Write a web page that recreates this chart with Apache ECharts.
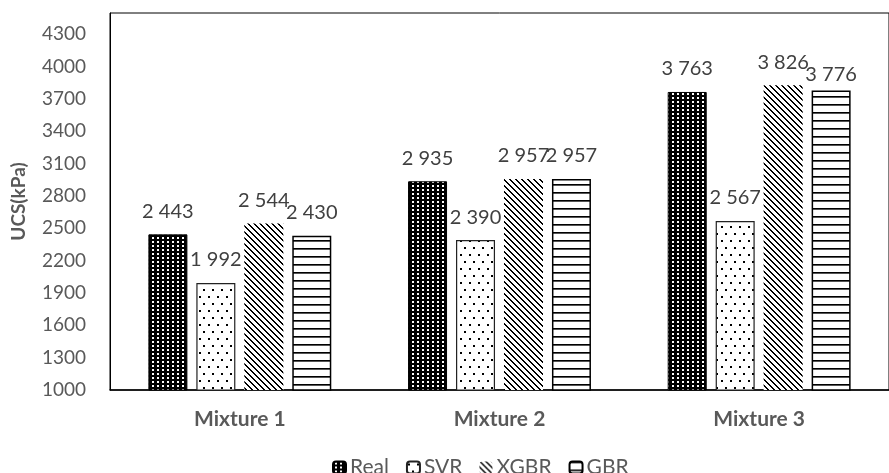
<!DOCTYPE html>
<html>
<head>
<meta charset="utf-8">
<script src="https://cdn.jsdelivr.net/npm/echarts@6/dist/echarts.min.js"></script>
<style>
html,body{margin:0;padding:0;background:#fff;}
#chart{width:889px;height:473px;}
</style>
</head>
<body>
<div id="chart"></div>
<script>
const categories = ['Mixture 1', 'Mixture 2', 'Mixture 3'];
const seriesNames = ['Real', 'SVR', 'XGBR', 'GBR'];
const realValues = [2443, 2935, 3763];
const svrValues = [1992, 2390, 2567];
const xgbrValues = [2544, 2957, 3826];
const gbrValues = [2430, 2957, 3776];
const yTicks = [1000, 1300, 1600, 1900, 2200, 2500, 2800, 3100, 3400, 3700, 4000, 4300];

function makePattern(w, h, draw) {
  const c = document.createElement('canvas');
  c.width = w; c.height = h;
  const ctx = c.getContext('2d');
  draw(ctx, w, h);
  return { image: c, repeat: 'repeat' };
}
const realPattern = makePattern(5, 4, (ctx, w, h) => {
  ctx.fillStyle = '#000'; ctx.fillRect(0, 0, w, h);
  ctx.fillStyle = '#fff'; ctx.fillRect(2, 1, 2, 2);
});
const svrPattern = makePattern(9, 14, (ctx, w, h) => {
  ctx.fillStyle = '#fff'; ctx.fillRect(0, 0, w, h);
  ctx.fillStyle = '#000';
  ctx.fillRect(1, 2, 2, 2);
  ctx.fillRect(5, 9, 2, 2);
});
const xgbrPattern = makePattern(6, 6, (ctx, w, h) => {
  ctx.fillStyle = '#fff'; ctx.fillRect(0, 0, w, h);
  ctx.fillStyle = '#000';
  for (let i = 0; i < 6; i++) {
    ctx.fillRect(i, i, 1, 1);
    ctx.fillRect((i + 1) % 6, i, 1, 1);
  }
});
const gbrPattern = makePattern(4, 8, (ctx, w, h) => {
  ctx.fillStyle = '#fff'; ctx.fillRect(0, 0, w, h);
  ctx.fillStyle = '#000'; ctx.fillRect(0, 0, w, 1);
  ctx.fillStyle = '#555'; ctx.fillRect(0, 1, w, 1);
});

const fmt = v => String(v).replace(/\B(?=(\d{3})+(?!\d))/g, ' ');
const valueSets = [realValues, svrValues, xgbrValues, gbrValues];
const styles = [
  { color: realPattern, borderColor: '#000', borderWidth: 1 },
  { color: svrPattern, borderColor: '#222', borderWidth: 1.2 },
  { color: xgbrPattern, borderWidth: 0 },
  { color: gbrPattern, borderColor: '#000', borderWidth: 1.5 }
];
const topTick = yTicks[yTicks.length - 1];

const series = seriesNames.map((name, si) => ({
  name: name,
  type: 'bar',
  barWidth: 39,
  barGap: '23%',
  itemStyle: styles[si],
  label: {
    show: true,
    position: 'top',
    distance: 13,
    color: '#404040',
    fontFamily: 'Lato',
    fontSize: 20,
    formatter: p => fmt(p.value)
  },
  data: valueSets[si].map((v, ci) => (si === 3 && ci === 2)
    ? { value: v, label: { offset: [0, 7] } }
    : v)
}));

const chart = echarts.init(document.getElementById('chart'), null, { renderer: 'canvas' });
chart.setOption({
  animation: false,
  backgroundColor: '#fff',
  textStyle: { fontFamily: 'Lato' },
  grid: {
    left: 110, right: -8, top: 13, bottom: 83,
    show: true, borderColor: '#000', borderWidth: 1, containLabel: false
  },
  legend: {
    data: seriesNames,
    left: 327, top: 452,
    itemWidth: 13, itemHeight: 12, itemGap: 17,
    textStyle: { color: '#595959', fontSize: 21, fontFamily: 'Lato', padding: [0, 0, 0, -1] }
  },
  xAxis: {
    type: 'category',
    data: categories,
    axisLine: { show: true, lineStyle: { color: '#000', width: 1.5 } },
    axisTick: { show: false },
    axisLabel: { color: '#595959', fontSize: 21, fontWeight: 'bold', fontFamily: 'Lato', margin: 19 },
    splitLine: { show: false }
  },
  yAxis: {
    type: 'value',
    min: yTicks[0],
    max: 4495,
    interval: 300,
    name: 'UCS(kPa)',
    nameLocation: 'middle',
    nameGap: 82,
    nameTextStyle: { color: '#595959', fontSize: 19, fontWeight: 'bold', fontFamily: 'Lato' },
    axisLine: { show: true, lineStyle: { color: '#000', width: 1 } },
    axisTick: { show: false },
    splitLine: { show: false },
    axisLabel: {
      color: '#595959', fontSize: 19, fontFamily: 'Lato', margin: 24,
      formatter: v => (v <= topTick ? String(v) : '')
    }
  },
  series: series
});
</script>
</body>
</html>
